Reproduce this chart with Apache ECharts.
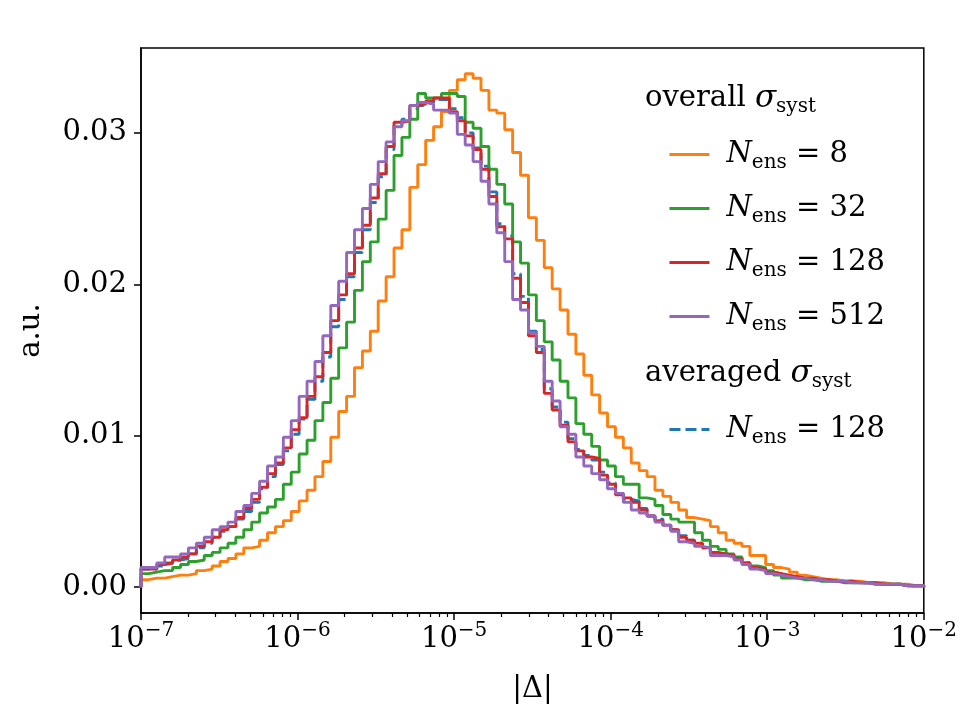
<!DOCTYPE html>
<html>
<head>
<meta charset="utf-8">
<script src="https://cdn.jsdelivr.net/npm/echarts@6/dist/echarts.min.js"></script>
<style>
  html, body { margin: 0; padding: 0; background: #fff; }
  #chart { width: 960px; height: 720px; }
</style>
</head>
<body>
<div id="chart"></div>
<script>
// 99 log-spaced bins between 1e-7 and 1e-2 (20 per decade)
const binEdges = [];
for (let i = 0; i <= 99; i++) binEdges.push(Math.pow(10, -7 + i * 5 / 99));

// histogram heights, one per bin (a.u.)
const nEns8 = [
  0.0005, 0.0006, 0.0006, 0.0007, 0.0008, 0.0008, 0.0009, 0.0011, 0.0012, 0.0014,
  0.0017, 0.0019, 0.0022, 0.0026, 0.0027, 0.0031, 0.0036, 0.0040, 0.0044, 0.0050,
  0.0057, 0.0064, 0.0073, 0.0083, 0.0099, 0.0116, 0.0126, 0.0145, 0.0156, 0.0169,
  0.0189, 0.0205, 0.0224, 0.0236, 0.0264, 0.0279, 0.0295, 0.0304, 0.0314, 0.0328,
  0.0335, 0.0339, 0.0336, 0.0328, 0.0315, 0.0313, 0.0302, 0.0287, 0.0272, 0.0244,
  0.0229, 0.0211, 0.0197, 0.0183, 0.0167, 0.0154, 0.0140, 0.0127, 0.0115, 0.0106,
  0.0099, 0.0092, 0.0082, 0.0077, 0.0073, 0.0064, 0.0060, 0.0056, 0.0051, 0.0046,
  0.0045, 0.0044, 0.0040, 0.0036, 0.0031, 0.0029, 0.0027, 0.0021, 0.0021, 0.0015,
  0.0013, 0.0012, 0.0010, 0.0008, 0.0007, 0.0006, 0.0005, 0.0005, 0.0004, 0.0004,
  0.0004, 0.0003, 0.0003, 0.0003, 0.0002, 0.0002, 0.0002, 0.0001, 0.0001
];
const nEns32 = [
  0.0009, 0.0010, 0.0011, 0.0011, 0.0013, 0.0015, 0.0017, 0.0018, 0.0021, 0.0023,
  0.0026, 0.0029, 0.0033, 0.0038, 0.0043, 0.0049, 0.0053, 0.0058, 0.0068, 0.0076,
  0.0088, 0.0097, 0.0110, 0.0122, 0.0138, 0.0158, 0.0175, 0.0196, 0.0215, 0.0228,
  0.0243, 0.0262, 0.0285, 0.0297, 0.0309, 0.0326, 0.0323, 0.0323, 0.0326, 0.0326,
  0.0324, 0.0307, 0.0303, 0.0291, 0.0276, 0.0266, 0.0253, 0.0228, 0.0214, 0.0193,
  0.0176, 0.0162, 0.0150, 0.0136, 0.0125, 0.0108, 0.0101, 0.0093, 0.0084, 0.0080,
  0.0073, 0.0068, 0.0068, 0.0059, 0.0058, 0.0054, 0.0048, 0.0045, 0.0043, 0.0043,
  0.0036, 0.0031, 0.0027, 0.0025, 0.0022, 0.0020, 0.0016, 0.0014, 0.0013, 0.0011,
  0.0008, 0.0006, 0.0006, 0.0005, 0.0005, 0.0004, 0.0004, 0.0004, 0.0003, 0.0003,
  0.0003, 0.0003, 0.0002, 0.0002, 0.0002, 0.0002, 0.0001, 0.0001, 0.0001
];
const nEns128 = [
  0.0012, 0.0012, 0.0015, 0.0016, 0.0018, 0.0020, 0.0022, 0.0027, 0.0030, 0.0033,
  0.0038, 0.0040, 0.0046, 0.0052, 0.0058, 0.0066, 0.0075, 0.0082, 0.0092, 0.0104,
  0.0112, 0.0126, 0.0139, 0.0155, 0.0176, 0.0193, 0.0207, 0.0224, 0.0239, 0.0257,
  0.0273, 0.0291, 0.0307, 0.0308, 0.0318, 0.0319, 0.0321, 0.0323, 0.0323, 0.0314,
  0.0308, 0.0298, 0.0289, 0.0276, 0.0258, 0.0238, 0.0230, 0.0204, 0.0188, 0.0166,
  0.0155, 0.0128, 0.0117, 0.0107, 0.0096, 0.0090, 0.0086, 0.0085, 0.0074, 0.0068,
  0.0061, 0.0059, 0.0056, 0.0051, 0.0047, 0.0044, 0.0041, 0.0038, 0.0033, 0.0031,
  0.0029, 0.0026, 0.0023, 0.0022, 0.0021, 0.0019, 0.0016, 0.0013, 0.0012, 0.0010,
  0.0009, 0.0008, 0.0007, 0.0006, 0.0006, 0.0005, 0.0005, 0.0004, 0.0004, 0.0004,
  0.0003, 0.0003, 0.0003, 0.0002, 0.0002, 0.0002, 0.0001, 0.0001, 0.0001
];
const nEns512 = [
  0.0013, 0.0013, 0.0016, 0.0020, 0.0020, 0.0022, 0.0026, 0.0029, 0.0033, 0.0038,
  0.0040, 0.0043, 0.0050, 0.0054, 0.0062, 0.0070, 0.0080, 0.0086, 0.0099, 0.0110,
  0.0126, 0.0136, 0.0149, 0.0166, 0.0186, 0.0202, 0.0221, 0.0236, 0.0250, 0.0266,
  0.0281, 0.0294, 0.0304, 0.0308, 0.0318, 0.0320, 0.0319, 0.0315, 0.0315, 0.0313,
  0.0299, 0.0292, 0.0281, 0.0268, 0.0253, 0.0234, 0.0215, 0.0190, 0.0183, 0.0168,
  0.0159, 0.0136, 0.0123, 0.0106, 0.0101, 0.0086, 0.0080, 0.0075, 0.0071, 0.0065,
  0.0062, 0.0056, 0.0051, 0.0049, 0.0047, 0.0043, 0.0041, 0.0037, 0.0030, 0.0029,
  0.0027, 0.0026, 0.0021, 0.0021, 0.0020, 0.0018, 0.0015, 0.0012, 0.0011, 0.0009,
  0.0008, 0.0007, 0.0006, 0.0006, 0.0005, 0.0005, 0.0004, 0.0004, 0.0004, 0.0003,
  0.0003, 0.0003, 0.0002, 0.0002, 0.0002, 0.0002, 0.0001, 0.0001, 0.0001
];
// averaged sigma_syst, N_ens = 128
const avgEns128 = [
  0.0012, 0.0012, 0.0014, 0.0016, 0.0018, 0.0019, 0.0022, 0.0026, 0.0029, 0.0033,
  0.0037, 0.0040, 0.0045, 0.0050, 0.0056, 0.0065, 0.0073, 0.0081, 0.0090, 0.0101,
  0.0111, 0.0124, 0.0136, 0.0152, 0.0172, 0.0190, 0.0205, 0.0221, 0.0236, 0.0254,
  0.0271, 0.0289, 0.0305, 0.0309, 0.0316, 0.0318, 0.0320, 0.0322, 0.0322, 0.0316,
  0.0310, 0.0300, 0.0290, 0.0278, 0.0261, 0.0240, 0.0232, 0.0207, 0.0192, 0.0169,
  0.0157, 0.0131, 0.0119, 0.0109, 0.0098, 0.0091, 0.0087, 0.0084, 0.0076, 0.0069,
  0.0062, 0.0058, 0.0057, 0.0052, 0.0047, 0.0045, 0.0041, 0.0038, 0.0034, 0.0031,
  0.0029, 0.0026, 0.0023, 0.0022, 0.0021, 0.0019, 0.0016, 0.0013, 0.0012, 0.0010,
  0.0009, 0.0007, 0.0007, 0.0006, 0.0006, 0.0005, 0.0005, 0.0004, 0.0004, 0.0004,
  0.0003, 0.0003, 0.0003, 0.0002, 0.0002, 0.0002, 0.0001, 0.0001, 0.0001
];

const xTicks = [1e-7, 1e-6, 1e-5, 1e-4, 1e-3, 1e-2];
const yTicks = [0, 0.01, 0.02, 0.03];
const xMinorTicks = [];
for (let d = -7; d < -2; d++) {
  for (let m = 2; m <= 9; m++) xMinorTicks.push(m * Math.pow(10, d));
}

const SERIF = 'DejaVu Serif';
const FS = 29;

// step outline like matplotlib histtype='step'
function stepData(vals) {
  const pts = [[binEdges[0], 0]];
  vals.forEach((v, i) => pts.push([binEdges[i], v]));
  pts.push([binEdges[vals.length], vals[vals.length - 1]]);
  pts.push([binEdges[vals.length], 0]);
  return pts;
}

const legendValue = { 'N8': '8', 'N32': '32', 'N128': '128', 'N512': '512', 'avg128': '128' };
const legendRich = {
  n: { fontFamily: SERIF, fontStyle: 'italic', fontSize: FS, lineHeight: 36, verticalAlign: 'middle', padding: [0, 0, 0, 12], color: '#000' },
  s: { fontFamily: SERIF, fontSize: 20, lineHeight: 14, verticalAlign: 'bottom', color: '#000' },
  t: { fontFamily: SERIF, fontSize: FS, lineHeight: 36, verticalAlign: 'middle', color: '#000' }
};
const legendFormatter = name => '{n|N}{s|ens}{t| = ' + legendValue[name] + '}';

const headRich = {
  a: { fontFamily: SERIF, fontSize: FS, lineHeight: 36, verticalAlign: 'middle', fill: '#000' },
  g: { fontFamily: SERIF, fontStyle: 'italic', fontSize: 31, lineHeight: 36, verticalAlign: 'middle', fill: '#000' },
  s: { fontFamily: SERIF, fontSize: 20, lineHeight: 14, verticalAlign: 'bottom', fill: '#000' }
};

function lineSeries(name, vals, color, dashed) {
  return {
    name: name, type: 'line', step: 'end', symbol: 'none', showSymbol: false,
    data: stepData(vals),
    lineStyle: { color: color, width: 2.9, type: dashed ? [11, 5] : 'solid' },
    itemStyle: { color: color },
    emphasis: { disabled: true }
  };
}

const legendCommon = {
  orient: 'vertical', left: 668, padding: 0,
  itemWidth: 40, itemHeight: 14, itemGap: 21.5,
  selectedMode: false,
  itemStyle: { opacity: 0 },
  lineStyle: { width: 2.9 },
  formatter: legendFormatter,
  textStyle: { rich: legendRich }
};

const chart = echarts.init(document.getElementById('chart'), null, { renderer: 'canvas' });
chart.setOption({
  animation: false,
  backgroundColor: '#fff',
  grid: { left: 141, right: 35, top: 48, bottom: 107, show: true, borderColor: '#000', borderWidth: 1.5, backgroundColor: 'transparent' },
  xAxis: [{
    type: 'log', logBase: 10, min: 1e-7, max: 1e-2,
    name: '|Δ|', nameLocation: 'middle', nameGap: 62,
    nameTextStyle: { fontFamily: SERIF, fontSize: FS, color: '#000' },
    axisLine: { show: true, onZero: false, lineStyle: { color: '#000', width: 1.5 } },
    axisTick: { show: true, inside: false, length: 7, customValues: xTicks, lineStyle: { color: '#000', width: 1.5 } },
    axisLabel: {
      customValues: xTicks, margin: 8, color: '#000',
      formatter: v => '{b|10}{s|−' + (-Math.round(Math.log10(v))) + '}',
      rich: {
        b: { fontFamily: SERIF, fontSize: FS, lineHeight: 36, verticalAlign: 'middle', color: '#000' },
        s: { fontFamily: SERIF, fontSize: 20, lineHeight: 10, verticalAlign: 'top', color: '#000' }
      }
    },
    splitLine: { show: false }
  }, {
    type: 'log', logBase: 10, min: 1e-7, max: 1e-2, position: 'bottom',
    axisLine: { show: false, onZero: false },
    axisTick: { show: true, inside: false, length: 4, customValues: xMinorTicks, lineStyle: { color: '#000', width: 1.2 } },
    axisLabel: { show: false },
    splitLine: { show: false }
  }],
  yAxis: {
    type: 'value', min: -0.0017, max: 0.0356,
    name: 'a.u.', nameLocation: 'middle', nameGap: 95, nameRotate: 90,
    nameTextStyle: { fontFamily: SERIF, fontSize: FS, color: '#000' },
    axisLine: { show: true, lineStyle: { color: '#000', width: 1.5 } },
    axisTick: { show: true, inside: false, length: 7, customValues: yTicks, lineStyle: { color: '#000', width: 1.5 } },
    axisLabel: {
      customValues: yTicks, margin: 14, color: '#000',
      fontFamily: SERIF, fontSize: FS,
      formatter: v => v.toFixed(2)
    },
    splitLine: { show: false }
  },
  legend: [
    Object.assign({}, legendCommon, { data: ['N8', 'N32', 'N128', 'N512'], top: 140 }),
    Object.assign({}, legendCommon, { data: ['avg128'], top: 415 })
  ],
  graphic: [{
    type: 'text', left: 645, top: 83,
    style: { text: '{a|overall }{g|σ}{s|syst}', rich: headRich }
  }, {
    type: 'text', left: 645, top: 358,
    style: { text: '{a|averaged }{g|σ}{s|syst}', rich: headRich }
  }],
  series: [
    lineSeries('avg128', avgEns128, '#1f77b4', true),
    lineSeries('N8', nEns8, '#ff7f0e', false),
    lineSeries('N32', nEns32, '#2ca02c', false),
    lineSeries('N128', nEns128, '#d62728', false),
    lineSeries('N512', nEns512, '#9467bd', false)
  ]
});
</script>
</body>
</html>
